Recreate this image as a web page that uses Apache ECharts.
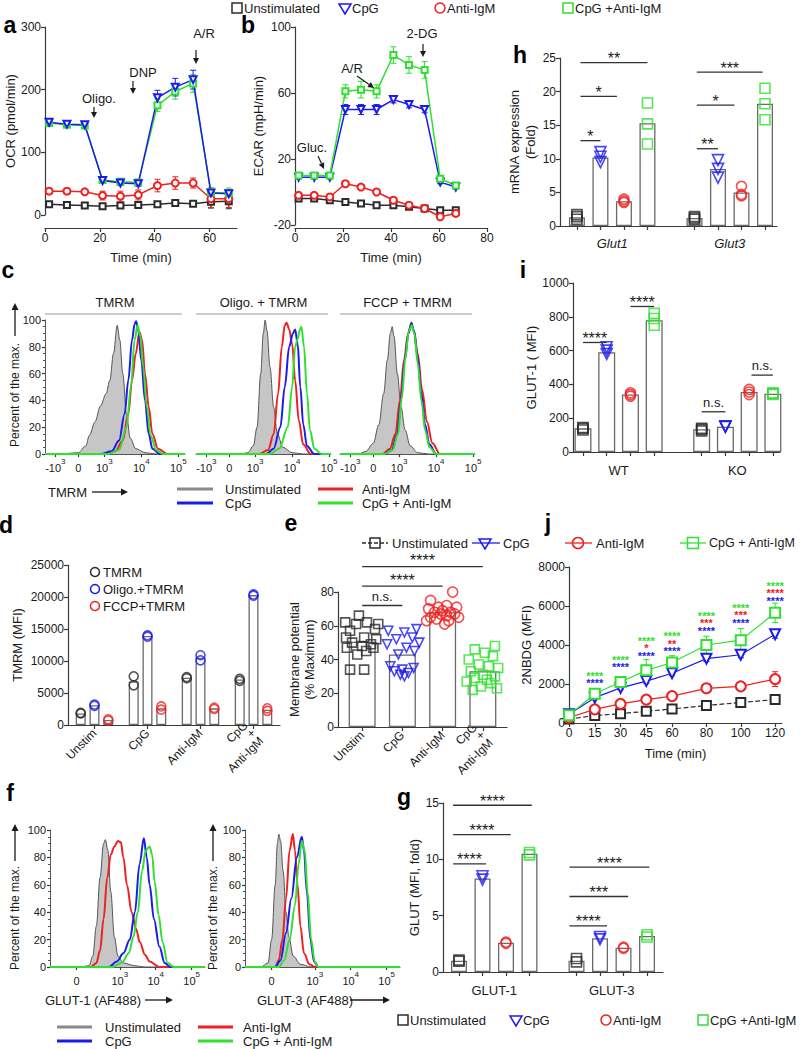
<!DOCTYPE html>
<html><head><meta charset="utf-8">
<script src="https://cdn.jsdelivr.net/npm/echarts@6/dist/echarts.min.js"></script>
<style>html,body{margin:0;padding:0;background:#fff}#c{width:800px;height:1049px}</style>
</head><body><div id="c"></div>
<script>
// ================= DATA =================
const CONDITIONS = ['Unstimulated','CpG','Anti-IgM','CpG + Anti-IgM'];

// a: OCR time course
const A_TIME = [1.5,8,14.5,21,27.5,34,41,47.5,54,60.5,67];
const A_UNST = [17,16,15,14,15,16,17,19,18,21,22];
const A_UNST_ERR = [2,2,2,3,3,3,3,3,3,10,12];
const A_CPG = [148,145,144,55,51,50,187,204,216,35,34];
const A_CPG_ERR = [3,3,3,4,4,4,12,14,15,4,4];
const A_ANTI = [38,38,37,31,30,32,47,51,51,26,26];
const A_ANTI_ERR = [3,3,3,7,8,8,10,10,8,14,14];
const A_COMBO = [147,144,143,56,53,52,175,197,210,36,35];
const A_COMBO_ERR = [3,3,3,4,4,4,10,12,14,8,8];
const A_XTICKS = [0,20,40,60];

// b: ECAR time course
const B_TIME = [1.5,8,14.5,21,27.5,34,41,47.5,54,60.5,67];
const B_UNST = [-4,-4,-5,-6,-7,-8,-8,-9,-10,-11,-11];
const B_UNST_ERR = [1,1,1,1,1,1,1,1,1,1,1];
const B_CPG = [9,9,9,50,50,50,56,53,50,6,3];
const B_CPG_ERR = [1,1,1,3,3,3,2,2,2,1,1];
const B_ANTI = [-2,-2,-3,5,3,0,-5,-8,-10,-15,-13];
const B_ANTI_ERR = [1,1,1,1,1,1,1,1,1,1,1];
const B_COMBO = [10,10,10,61,62,61,83,77,74,8,4];
const B_COMBO_ERR = [1,1,1,4,5,4,5,5,5,1,1];

// c: TMRM histograms (x in display decades of the biexponential scale, y = % of max)
const C_XTICK_POS = [1.68,2.3,3,4,5];
const C_XTICK_LBL = ['-10^3','0','10^3','10^4','10^5'];
const C1_UNST = [[1.4,0],[1.8,0],[2.3,1],[2.5,6],[2.6,14],[2.75,24],[2.9,36],[3.05,45],[3.15,55],[3.25,75],[3.35,96],[3.42,85],[3.5,60],[3.6,30],[3.7,12],[3.85,4],[4.1,1],[4.4,0],[5.18,0]];
const C1_CPG = [[1.4,0],[2.9,0],[3.2,2],[3.4,10],[3.55,30],[3.65,55],[3.75,85],[3.82,97],[3.86,99],[3.92,92],[4.0,70],[4.1,40],[4.2,15],[4.3,4],[4.5,0],[5.18,0]];
const C1_ANTI = [[1.4,0],[3.0,0],[3.3,2],[3.5,10],[3.65,30],[3.75,55],[3.85,75],[3.95,91],[4.02,85],[4.1,60],[4.2,35],[4.3,15],[4.45,4],[4.7,0],[5.18,0]];
const C1_COMBO = [[1.4,0],[3.1,0],[3.4,3],[3.6,20],[3.72,50],[3.82,85],[3.9,96],[3.97,88],[4.05,65],[4.15,35],[4.25,14],[4.4,3],[4.6,0],[5.18,0]];
const C2_UNST = [[1.4,0],[2.6,0],[2.8,1],[2.95,6],[3.05,20],[3.15,60],[3.22,90],[3.27,100],[3.32,92],[3.4,65],[3.5,35],[3.6,15],[3.75,5],[4.0,1],[4.3,0],[5.05,0]];
const C2_CPG = [[1.4,0],[3.3,0],[3.5,4],[3.68,20],[3.8,50],[3.92,80],[4.02,90],[4.08,93],[4.15,82],[4.22,50],[4.3,22],[4.4,6],[4.6,0],[5.05,0]];
const C2_ANTI = [[1.4,0],[3.1,0],[3.35,3],[3.5,15],[3.62,45],[3.72,80],[3.8,96],[3.85,98],[3.92,93],[4.0,82],[4.08,55],[4.18,25],[4.3,7],[4.5,0],[5.05,0]];
const C2_COMBO = [[1.4,0],[3.4,0],[3.65,4],[3.88,20],[4.0,50],[4.08,80],[4.15,86],[4.2,92],[4.25,95],[4.32,80],[4.4,45],[4.48,18],[4.6,4],[4.8,0],[5.05,0]];
const C3_UNST = [[1.4,0],[1.9,0],[2.1,2],[2.3,8],[2.45,22],[2.58,45],[2.68,70],[2.76,90],[2.81,95],[2.86,88],[2.95,60],[3.05,35],[3.16,18],[3.3,6],[3.5,1],[3.8,0],[5.05,0]];
const C3_CPG = [[1.4,0],[2.6,0],[2.8,3],[2.95,15],[3.05,40],[3.15,70],[3.25,90],[3.33,98],[3.4,92],[3.5,72],[3.6,45],[3.7,22],[3.82,7],[4.0,0],[5.05,0]];
const C3_ANTI = [[1.4,0],[2.55,0],[2.75,4],[2.9,15],[3.02,40],[3.13,70],[3.24,90],[3.32,96],[3.4,92],[3.5,75],[3.62,48],[3.75,24],[3.9,8],[4.1,0],[5.05,0]];
const C3_COMBO = [[1.4,0],[2.6,0],[2.82,3],[2.97,15],[3.07,42],[3.17,72],[3.26,92],[3.34,96],[3.41,90],[3.5,68],[3.6,40],[3.7,18],[3.82,5],[4.0,0],[5.05,0]];

// d: TMRM MFI
const D_GROUPS = ['Unstim','CpG','Anti-IgM','CpG\n+\nAnti-IgM'];
const D_TMRM = [1800,6800,7400,7100];
const D_OLIGO = [3100,13900,10500,20300];
const D_FCCP = [800,2600,2600,2400];
const D_TMRM_PTS = [[1800,1900],[6200,7600],[7300,7500],[6900,7200]];
const D_OLIGO_PTS = [[3000,3200],[13800,14000],[10100,10900],[20200,20400]];
const D_FCCP_PTS = [[700,900],[2400,2900],[2500,2700],[2200,2600]];

// e: membrane potential (points: [horizontal offset within column, value])
const E_GROUPS = ['Unstim','CpG','Anti-IgM','CpG\n+\nAnti-IgM'];
const E_MEANS = [50.5,43,68,33];
const E_UNST = [[-0.08,66],[-0.42,62],[-0.15,61],[0.12,62],[0.4,61],[-0.3,57],[0.32,58],[-0.4,53],[0.05,53],[0.35,52],[-0.25,50],[0.0,48],[0.22,49],[-0.38,47],[0.28,47],[0.1,45],[-0.12,43],[-0.3,34],[0.05,34]];
const E_CPG = [[0.35,58],[-0.35,57],[0.05,56],[0.25,53],[-0.15,52],[0.42,50],[-0.38,49],[0.1,47],[0.3,45],[-0.1,43],[-0.3,36],[0.0,34],[0.28,35],[-0.2,33],[0.15,32],[-0.05,31],[0.05,30]];
const E_ANTI = [[0.25,80],[-0.3,75],[0.1,72],[-0.1,71],[0.35,71],[-0.35,70],[0.0,69],[0.2,68],[-0.2,68],[0.3,67],[-0.05,67],[0.1,66],[-0.3,65],[0.4,65],[-0.15,64],[0.15,63],[-0.4,63],[0.05,61]];
const E_COMBO = [[-0.2,46],[0.3,48],[0.05,44],[-0.35,40],[0.25,42],[-0.1,37],[0.15,36],[0.38,35],[-0.3,33],[0.0,31],[0.3,30],[-0.2,29],[0.1,28],[-0.4,27],[0.2,26],[-0.05,24],[0.35,23],[-0.25,22]];
const E_SIG = [[0,1,72,'n.s.'],[0,2,83.5,'****'],[0,3,95,'****']];

// f: GLUT histograms
const F_XTICK_POS = [1.8,3,4,5];
const F_XTICK_LBL = ['0','10^3','10^4','10^5'];
const F1_UNST = [[1.06,0],[1.9,0],[2.15,1],[2.25,8],[2.35,30],[2.45,65],[2.55,90],[2.6,93],[2.67,85],[2.75,55],[2.85,22],[2.95,8],[3.1,3],[3.4,1],[3.7,0],[5.37,0]];
const F1_ANTI = [[1.06,0],[2.2,0],[2.35,3],[2.45,12],[2.55,35],[2.65,65],[2.75,82],[2.85,88],[2.95,92],[3.03,91],[3.1,80],[3.2,60],[3.33,40],[3.45,28],[3.56,18],[3.7,9],[3.83,4],[4.1,0],[5.37,0]];
const F1_CPG = [[1.06,0],[2.7,0],[2.92,4],[3.1,10],[3.28,20],[3.42,40],[3.55,75],[3.67,94],[3.75,80],[3.83,60],[3.95,35],[4.1,15],[4.25,3],[4.4,0],[5.37,0]];
const F1_COMBO = [[1.06,0],[2.8,0],[3.05,3],[3.25,10],[3.38,22],[3.5,40],[3.62,70],[3.72,85],[3.83,88],[3.9,82],[3.97,62],[4.08,38],[4.19,18],[4.33,3],[4.5,0],[5.37,0]];
const F2_UNST = [[1.06,0],[1.5,0],[1.7,3],[1.8,20],[1.9,60],[1.96,90],[2.0,97],[2.05,92],[2.12,70],[2.2,40],[2.28,22],[2.4,8],[2.6,2],[2.9,0],[5.37,0]];
const F2_ANTI = [[1.06,0],[1.9,0],[2.0,5],[2.1,20],[2.2,50],[2.3,85],[2.39,97],[2.45,85],[2.52,60],[2.6,30],[2.7,10],[2.85,2],[3.0,0],[5.37,0]];
const F2_CPG = [[1.06,0],[1.9,0],[2.05,5],[2.2,25],[2.35,50],[2.5,80],[2.64,95],[2.7,85],[2.78,55],[2.88,20],[2.98,4],[3.1,0],[5.37,0]];
const F2_COMBO = [[1.06,0],[2.0,0],[2.15,5],[2.3,20],[2.45,45],[2.55,75],[2.64,92],[2.72,85],[2.8,55],[2.9,20],[3.0,4],[3.1,0],[5.37,0]];

// g: GLUT MFI fold
const G_GROUPS = ['GLUT-1','GLUT-3'];
const G_UNST = [1.0,1.0];
const G_CPG = [8.3,3.0];
const G_ANTI = [2.6,2.15];
const G_COMBO = [10.5,3.2];
const G_UNST_PTS = [[0.95,1.05],[0.9,1.2]];
const G_CPG_PTS = [[8.2,8.5],[2.9,3.1]];
const G_ANTI_PTS = [[2.55,2.65],[2.1,2.2]];
const G_COMBO_PTS = [[10.4,10.6],[3.1,3.3]];
const G_SIG = [[0.75,2.15,9.6,'****'],[0.75,3.2,12.2,'****'],[0.75,4.1,14.8,'****'],[5.7,7.3,4.1,'****'],[5.7,8.2,6.7,'***'],[5.7,9.1,9.3,'****']];

// h: mRNA expression
const H_GROUPS = ['Glut1','Glut3'];
const H_UNST = [1.3,1.2];
const H_CPG = [10.2,8.5];
const H_ANTI = [3.7,5.0];
const H_COMBO = [15.3,18.2];
const H_UNST_PTS = [[1.0,1.4,1.7],[1.0,1.2,1.4]];
const H_CPG_PTS = [[9.5,10.3,11.0],[7.2,8.5,9.8]];
const H_ANTI_PTS = [[3.5,3.7,4.0],[4.5,4.7,5.9]];
const H_COMBO_PTS = [[12.2,15.2,18.3],[15.8,18.2,20.5]];
const H_SIG = [[1.15,2,12.7,'*'],[1.15,2.7,19.3,'*'],[1.15,4,24.3,'**'],[6.1,7,11.5,'**'],[6.1,7.7,18,'*'],[6.1,8.9,22.9,'***']];

// i: GLUT-1 MFI WT / KO
const I_GROUPS = ['WT','KO'];
const I_UNST = [140,135];
const I_CPG = [590,150];
const I_ANTI = [340,355];
const I_COMBO = [780,345];
const I_UNST_PTS = [[130,140,145],[125,135,140]];
const I_CPG_PTS = [[580,600,620],[148,150,152]];
const I_ANTI_PTS = [[330,340,350],[340,355,370]];
const I_COMBO_PTS = [[750,790,820],[340,345,350]];
const I_SIG = [[1,2,648,'****'],[3,4,861,'****'],[6,7,238,'n.s.'],[8.1,9,455,'n.s.']];

// j: 2NBDG uptake
const J_TIME = [0,15,30,45,60,80,100,120];
const J_UNST = [200,380,480,600,720,900,1050,1200];
const J_UNST_ERR = [40,60,60,60,60,80,80,80];
const J_ANTI = [280,700,980,1200,1380,1780,1880,2250];
const J_ANTI_ERR = [40,80,80,100,100,120,120,380];
const J_CPG = [450,1300,1800,2150,2550,3300,3500,4550];
const J_CPG_ERR = [60,100,100,120,120,150,150,200];
const J_COMBO = [400,1500,2100,2700,3100,4000,4250,5650];
const J_COMBO_ERR = [60,150,150,550,350,450,600,500];
// significance stacks above each time point (top row value, stars per comparison)
const J_STAR_TIME = [15,30,45,60,80,100,120];
const J_STAR_TOP = [2560,3380,4350,4600,5640,6050,7180];
const J_STAR_COMBO = ['****','****','****','****','****','****','****'];
const J_STAR_ANTI = ['','','*','**','***','***','****'];
const J_STAR_CPG = ['****','****','****','****','****','****','****'];

// ================= STYLE =================
const FONT = "'Liberation Sans', Arial, Helvetica, sans-serif";
const COL = {unst:'#2b2b2b', cpg:'#1b1bf0', anti:'#f02020', combo:'#2fe02f', grayFill:'#c6c6c6', grayLine:'#555555', axis:'#3a3a3a', text:'#1a1a1a', bar:'#6a6a6a'};

const grid=[], xAxis=[], yAxis=[], series=[], graphic=[];

function mergeAx(o){
  const base = {
    type:'value',
    axisLine:{show:true, onZero:false, lineStyle:{color:COL.axis, width:1.2}},
    axisTick:{show:true, length:4, lineStyle:{color:COL.axis, width:1.2}},
    axisLabel:{color:COL.text, fontSize:12, fontFamily:FONT, margin:4, formatter:v=>String(v)},
    splitLine:{show:false},
    nameTextStyle:{color:COL.text, fontSize:13, fontFamily:FONT}
  };
  for (const k in o){
    if (o[k] && typeof o[k]==='object' && !Array.isArray(o[k]) && base[k] && typeof base[k]==='object') base[k]=Object.assign({}, base[k], o[k]);
    else base[k]=o[k];
  }
  return base;
}
function panel(g, xa, ya){
  const i=grid.length;
  grid.push(Object.assign({containLabel:false}, g));
  xAxis.push(Object.assign({gridIndex:i}, mergeAx(xa)));
  yAxis.push(Object.assign({gridIndex:i}, mergeAx(ya)));
  return i;
}
function lookupLabel(pos, lbl){ return v => { const k = pos.findIndex(p=>Math.abs(p-v)<1e-6); return k<0?'':lbl[k]; }; }
function supLabel(s){
  const m = s.match(/^(-?)10\^(\d)$/);
  if(!m) return '{n|'+s+'}';
  return '{n|'+m[1]+'10}{s|'+m[2]+'}';
}
const SUP_RICH = {
  n:{fontSize:11, fontFamily:FONT, color:COL.text, lineHeight:16, verticalAlign:'bottom'},
  s:{fontSize:8, fontFamily:FONT, color:COL.text, lineHeight:9, verticalAlign:'top'}
};

// series helpers
function lineS(i, xs, ys, color, symbol, opt={}){
  series.push({type:'line', xAxisIndex:i, yAxisIndex:i, data:xs.map((x,k)=>[x,ys[k]]),
    symbol, symbolSize:opt.size||7, symbolRotate:opt.rot||0, showAllSymbol:true,
    lineStyle:{color, width:opt.width||1.5, type:opt.dash?'dashed':'solid'},
    itemStyle:{color, borderWidth:1.3}, z:opt.z||3, silent:true, animation:false});
}
function errS(i, xs, ys, errs, color, capw=3){
  series.push({type:'custom', xAxisIndex:i, yAxisIndex:i, silent:true, z:2, clip:false,
    data:xs.map((x,k)=>[x,ys[k],errs[k]]),
    renderItem:(p,api)=>{
      const x=api.value(0), y=api.value(1), e=api.value(2);
      const t=api.coord([x,y+e]), b=api.coord([x,y-e]);
      const st={stroke:color, lineWidth:1};
      return {type:'group', children:[
        {type:'line', shape:{x1:t[0],y1:t[1],x2:b[0],y2:b[1]}, style:st},
        {type:'line', shape:{x1:t[0]-capw,y1:t[1],x2:t[0]+capw,y2:t[1]}, style:st},
        {type:'line', shape:{x1:b[0]-capw,y1:b[1],x2:b[0]+capw,y2:b[1]}, style:st}]};
    }});
}
function histS(i, data, color, filled){
  series.push({type:'line', xAxisIndex:i, yAxisIndex:i, data, symbol:'none', smooth:0.35, smoothMonotone:'x',
    lineStyle:{color: filled?COL.grayLine:color, width: filled?1:2},
    areaStyle: filled?{color:COL.grayFill, opacity:1}:undefined, z: filled?2:3, silent:true});
}
function barS(i, data, width){
  series.push({type:'bar', xAxisIndex:i, yAxisIndex:i, data, barWidth:width,
    itemStyle:{color:'#ffffff', borderColor:COL.bar, borderWidth:1.3}, z:2, silent:true});
}
function ptsS(i, data, color, symbol, size, rot){
  series.push({type:'scatter', xAxisIndex:i, yAxisIndex:i, data, symbol, symbolSize:size, symbolRotate:rot||0,
    itemStyle:{color:'rgba(255,255,255,0)', borderColor:color, borderWidth:1.6}, z:3, silent:true});
}
function sigS(i, list, opt={}){
  series.push({type:'custom', xAxisIndex:i, yAxisIndex:i, silent:true, z:5, clip:false,
    data:list.map(d=>[d[0],d[2]]),
    renderItem:(p,api)=>{
      const d=list[p.dataIndex];
      const a=api.coord([d[0],d[2]]), b=api.coord([d[1],d[2]]);
      const isNS = d[3]==='n.s.';
      return {type:'group', children:[
        {type:'line', shape:{x1:a[0],y1:a[1],x2:b[0],y2:b[1]}, style:{stroke:'#333', lineWidth:1.3}},
        {type:'text', x:(a[0]+b[0])/2, y: isNS ? a[1]-3 : a[1]+(opt.starDy||4),
          style:{text:d[3], fill:COL.text, font:(isNS?'13px ':'16px ')+FONT, align:'center', verticalAlign:'bottom'}}]};
    }});
}
// stacked coloured star rows (one multi-line rich text per time point)
function starStackS(i){
  series.push({type:'custom', xAxisIndex:i, yAxisIndex:i, silent:true, z:5, clip:false,
    data:J_STAR_TIME.map((t,k)=>[t,J_STAR_TOP[k]]),
    renderItem:(p,api)=>{
      const k=p.dataIndex; const c=api.coord([J_STAR_TIME[k], J_STAR_TOP[k]]);
      const rows=[];
      if(J_STAR_COMBO[k]) rows.push('{g|'+J_STAR_COMBO[k]+'}');
      if(J_STAR_ANTI[k]) rows.push('{r|'+J_STAR_ANTI[k]+'}');
      if(J_STAR_CPG[k]) rows.push('{b|'+J_STAR_CPG[k]+'}');
      const st=(col)=>({fill:col, lineHeight:7.5, fontWeight:'bold', fontSize:11, fontFamily:FONT});
      return {type:'text', x:c[0], y:c[1]-1, style:{text:rows.join('\n'), align:'center', verticalAlign:'top',
        rich:{g:st(COL.combo), r:st(COL.anti), b:st(COL.cpg)}}};
    }});
}

// graphic helpers
function T(x,y,text,o={}){
  graphic.push({type:'text', x, y, rotation:o.rot||0, z:100, silent:true,
    style:{text, fill:o.color||COL.text, font:(o.style||'')+' '+(o.weight||'normal')+' '+(o.size||13)+'px '+FONT, align:o.align||'left', verticalAlign:o.va||'middle'}});
}
function L(x1,y1,x2,y2,color,w,dash){
  graphic.push({type:'line', z:100, silent:true, shape:{x1,y1,x2,y2}, style:{stroke:color||COL.text, lineWidth:w||1.2, lineDash:dash||null}});
}
function ARROW(x1,y1,x2,y2,color,w,head){
  color=color||COL.text; w=w||1.2; head=head||6;
  const ang=Math.atan2(y2-y1,x2-x1);
  const bx=x2-head*Math.cos(ang), by=y2-head*Math.sin(ang);
  L(x1,y1,bx,by,color,w);
  const px=-Math.sin(ang)*head*0.5, py=Math.cos(ang)*head*0.5;
  graphic.push({type:'polygon', z:100, silent:true, shape:{points:[[x2,y2],[bx+px,by+py],[bx-px,by-py]]}, style:{fill:color}});
}
function SYM(kind,x,y,color,s){
  s=s||5;
  const st={fill:'none', stroke:color, lineWidth:1.5};
  if(kind==='sq') graphic.push({type:'rect', z:100, silent:true, shape:{x:x-s,y:y-s,width:2*s,height:2*s}, style:st});
  else if(kind==='ci') graphic.push({type:'circle', z:100, silent:true, shape:{cx:x,cy:y,r:s}, style:st});
  else if(kind==='tr') graphic.push({type:'polygon', z:100, silent:true, shape:{points:[[x-s-1,y-s+1],[x+s+1,y-s+1],[x,y+s+1]]}, style:st});
}

// ================= PANEL a =================
const ia = panel({left:45, top:27, width:192, height:188},
  {min:0, max:70, offset:13, axisLabel:{customValues:A_XTICKS, margin:4}, axisTick:{customValues:A_XTICKS},
   name:'Time (min)', nameLocation:'middle', nameGap:23},
  {min:0, max:300, interval:100, name:'OCR (pmol/min)', nameLocation:'middle', nameGap:24});
errS(ia, A_TIME, A_UNST, A_UNST_ERR, COL.unst);
errS(ia, A_TIME, A_ANTI, A_ANTI_ERR, COL.anti);
errS(ia, A_TIME, A_COMBO, A_COMBO_ERR, COL.combo);
errS(ia, A_TIME, A_CPG, A_CPG_ERR, COL.cpg);
lineS(ia, A_TIME, A_UNST, COL.unst, 'emptyRect', {size:6});
lineS(ia, A_TIME, A_ANTI, COL.anti, 'emptyCircle', {size:7});
lineS(ia, A_TIME, A_COMBO, COL.combo, 'emptyRect', {size:6});
lineS(ia, A_TIME, A_CPG, COL.cpg, 'emptyTriangle', {size:7, rot:180});
T(82,98,'Oligo.',{size:13}); ARROW(94,107,94,118);
T(143,72,'DNP',{size:13,align:'center'}); ARROW(133,81,133,94);
T(204,33,'A/R',{size:13,align:'center'}); ARROW(196,50,196,64);

// ================= PANEL b =================
const ib = panel({left:295, top:27, width:192, height:198},
  {min:0, max:80, interval:20, offset:3, axisLabel:{margin:4}, name:'Time (min)', nameLocation:'middle', nameGap:23},
  {min:-20, max:100, interval:40, name:'ECAR (mpH/min)', nameLocation:'middle', nameGap:30});
errS(ib, B_TIME, B_UNST, B_UNST_ERR, COL.unst);
errS(ib, B_TIME, B_ANTI, B_ANTI_ERR, COL.anti);
errS(ib, B_TIME, B_CPG, B_CPG_ERR, COL.cpg);
errS(ib, B_TIME, B_COMBO, B_COMBO_ERR, COL.combo);
lineS(ib, B_TIME, B_UNST, COL.unst, 'emptyRect', {size:6});
lineS(ib, B_TIME, B_ANTI, COL.anti, 'emptyCircle', {size:7});
lineS(ib, B_TIME, B_CPG, COL.cpg, 'emptyTriangle', {size:7, rot:180});
lineS(ib, B_TIME, B_COMBO, COL.combo, 'emptyRect', {size:6});
T(312,147,'Gluc.',{size:13,align:'center'}); ARROW(318,156,324,169);
T(352,68,'A/R',{size:13,align:'center'}); ARROW(357,76,374,88);
T(422,33,'2-DG',{size:13,align:'center'}); ARROW(423,44,423,57);

// ================= PANEL h =================
const H_POS = [[1,2,3,4],[6,7,8,9]];
function groupBars(i, arrs, pos){ const d=[]; arrs.forEach((arr,c)=>arr.forEach((v,g)=>d.push([pos[g][c], v]))); return d; }
function groupPts(ptsArr, c, pos){ const d=[]; ptsArr.forEach((vals,g)=>vals.forEach(v=>d.push([pos[g][c], v]))); return d; }
const ih = panel({left:560, top:58, width:217, height:168},
  {min:0.28, max:9.51, axisLabel:{customValues:[2.5,7.5], formatter:lookupLabel([2.5,7.5],H_GROUPS), fontStyle:'italic', fontSize:13, margin:11},
   axisTick:{customValues:[1,2,3,4,6,7,8,9]}},
  {min:0, max:25, interval:5, name:'mRNA expression\n(Fold)', nameLocation:'middle', nameGap:20,
   nameTextStyle:{lineHeight:16}});
barS(ih, groupBars(ih, [H_UNST,H_CPG,H_ANTI,H_COMBO], H_POS), 16);
ptsS(ih, groupPts(H_UNST_PTS,0,H_POS), COL.unst, 'rect', 10);
ptsS(ih, groupPts(H_CPG_PTS,1,H_POS), COL.cpg, 'triangle', 11, 180);
ptsS(ih, groupPts(H_ANTI_PTS,2,H_POS), COL.anti, 'circle', 10);
ptsS(ih, groupPts(H_COMBO_PTS,3,H_POS), COL.combo, 'rect', 10);
sigS(ih, H_SIG);

// ================= PANEL i =================
const ii = panel({left:573, top:283, width:207, height:169},
  {min:0.58, max:9.3, axisLabel:{customValues:[2.5,7.5], formatter:lookupLabel([2.5,7.5],I_GROUPS), fontSize:13, margin:12},
   axisTick:{customValues:[1,2,3,4,6,7,8,9]}},
  {min:0, max:1000, interval:200, name:'GLUT-1 ( MFI)', nameLocation:'middle', nameGap:34});
barS(ii, groupBars(ii, [I_UNST,I_CPG,I_ANTI,I_COMBO], H_POS), 17);
ptsS(ii, groupPts(I_UNST_PTS,0,H_POS), COL.unst, 'rect', 10);
ptsS(ii, groupPts(I_CPG_PTS,1,H_POS), COL.cpg, 'triangle', 11, 180);
ptsS(ii, groupPts(I_ANTI_PTS,2,H_POS), COL.anti, 'circle', 10);
ptsS(ii, groupPts(I_COMBO_PTS,3,H_POS), COL.combo, 'rect', 10);
sigS(ii, I_SIG);

// ================= PANEL c =================
const C_PANELS = [
  {left:45, width:140, max:5.18, title:'TMRM', data:[C1_UNST,C1_CPG,C1_ANTI,C1_COMBO], showY:true},
  {left:196, width:135, max:5.05, title:'Oligo. + TMRM', data:[C2_UNST,C2_CPG,C2_ANTI,C2_COMBO], showY:false},
  {left:340, width:135, max:5.05, title:'FCCP + TMRM', data:[C3_UNST,C3_CPG,C3_ANTI,C3_COMBO], showY:false}
];
C_PANELS.forEach(p=>{
  const ic = panel({left:p.left, top:320, width:p.width, height:134},
    {min:1.4, max:p.max, axisLabel:{customValues:C_XTICK_POS, formatter:v=>supLabel(lookupLabel(C_XTICK_POS,C_XTICK_LBL)(v)), rich:SUP_RICH, margin:3},
     axisTick:{customValues:C_XTICK_POS, length:3}, axisLine:{lineStyle:{color:'#555', width:1}}},
    p.showY ? {min:0, max:100, interval:20, axisLabel:{fontSize:11}, axisTick:{length:3}, minorTick:{show:true, splitNumber:4, length:2, lineStyle:{color:'#555'}}, axisLine:{lineStyle:{color:'#555', width:1}}}
            : {min:0, max:100, show:false});
  histS(ic, p.data[0], null, true);
  histS(ic, p.data[2], COL.anti);
  histS(ic, p.data[1], COL.cpg);
  histS(ic, p.data[3], COL.combo);
  T(p.left+p.width/2, 302, p.title, {size:13, align:'center'});
  L(p.left, 314, p.left+p.width-3, 314, '#9a9a9a', 1);
});
T(15,395,'Percent of the max.',{rot:Math.PI/2, size:12, align:'center'});
ARROW(15,336,15,303,COL.text,1.3,7);
T(48,492,'TMRM',{size:13}); ARROW(92,492,128,492,COL.text,1.3,7);
// legend c
L(177,489,213,489,'#8a8a8a',3); T(225,489,'Unstimulated',{size:13});
L(177,503,213,503,COL.cpg,3); T(225,503,'CpG',{size:13});
L(318,489,353,489,COL.anti,3); T(362,489,'Anti-IgM',{size:13});
L(318,503,353,503,COL.combo,3); T(362,503,'CpG + Anti-IgM',{size:13});

// ================= PANEL d =================
const D_OFF = [-0.26, 0, 0.26];
const id = panel({left:68, top:565, width:212, height:160},
  {min:-0.5, max:3.5, axisLabel:{customValues:[0,1,2,3], formatter:lookupLabel([0,1,2,3],D_GROUPS), rotate:45, fontSize:12, margin:6, lineHeight:11},
   axisTick:{customValues:[0,1,2,3]}},
  {min:0, max:25000, interval:5000, name:'TMRM (MFI)', nameLocation:'middle', nameGap:44});
(function(){
  const bars=[];
  [D_TMRM,D_OLIGO,D_FCCP].forEach((arr,s)=>arr.forEach((v,g)=>bars.push([g+D_OFF[s], v])));
  barS(id, bars, 10);
  const mk=(P,s)=>{const d=[]; P.forEach((vals,g)=>vals.forEach(v=>d.push([g+D_OFF[s],v]))); return d;};
  ptsS(id, mk(D_TMRM_PTS,0), COL.unst, 'circle', 9);
  ptsS(id, mk(D_OLIGO_PTS,1), COL.cpg, 'circle', 9);
  ptsS(id, mk(D_FCCP_PTS,2), COL.anti, 'circle', 9);
})();
SYM('ci',95,572,COL.unst,4.5); T(103,572,'TMRM',{size:13});
SYM('ci',95,589,COL.cpg,4.5); T(103,589,'Oligo.+TMRM',{size:13});
SYM('ci',95,606,COL.anti,4.5); T(103,606,'FCCP+TMRM',{size:13});

// ================= PANEL e =================
const ie = panel({left:338, top:592, width:169, height:135},
  {min:-0.6, max:3.6, axisLabel:{customValues:[0,1,2,3], formatter:lookupLabel([0,1,2,3],E_GROUPS), rotate:45, fontSize:12, margin:6, lineHeight:11},
   axisTick:{customValues:[0,1,2,3]}},
  {min:0, max:80, interval:20, name:'Membrane potential\n(% Maximum)', nameLocation:'middle', nameGap:21, nameTextStyle:{lineHeight:15}});
barS(ie, E_MEANS.map((v,k)=>[k,v]), 27);
ptsS(ie, E_UNST.map(d=>[0+d[0],d[1]]), COL.unst, 'rect', 9);
ptsS(ie, E_CPG.map(d=>[1+d[0],d[1]]), COL.cpg, 'triangle', 9, 180);
ptsS(ie, E_ANTI.map(d=>[2+d[0],d[1]]), COL.anti, 'circle', 10);
ptsS(ie, E_COMBO.map(d=>[3+d[0],d[1]]), COL.combo, 'rect', 9);
sigS(ie, E_SIG, {starDy:2});

// legend e / j
L(362,543,388,543,COL.unst,1.3,[4,2]); SYM('sq',375,543,COL.unst,5); T(392,543,'Unstimulated',{size:13});
L(472,543,500,543,COL.cpg,1.3); SYM('tr',485,543,COL.cpg,5); T(503,543,'CpG',{size:13});
L(565,543,592,543,COL.anti,1.3); SYM('ci',578,543,COL.anti,5.5); T(596,543,'Anti-IgM',{size:13});
L(680,543,706,543,COL.combo,1.3); SYM('sq',693,543,COL.combo,5.5); T(709,543,'CpG + Anti-IgM',{size:12.5});

// ================= PANEL j =================
const ij = panel({left:569, top:567, width:213, height:156},
  {min:0, max:124, axisLabel:{customValues:J_TIME, fontSize:12}, axisTick:{customValues:J_TIME},
   name:'Time (min)', nameLocation:'middle', nameGap:24},
  {min:0, max:8000, interval:2000, name:'2NBDG (MFI)', nameLocation:'middle', nameGap:36});
errS(ij, J_TIME, J_UNST, J_UNST_ERR, COL.unst);
errS(ij, J_TIME, J_ANTI, J_ANTI_ERR, COL.anti);
errS(ij, J_TIME, J_CPG, J_CPG_ERR, COL.cpg);
errS(ij, J_TIME, J_COMBO, J_COMBO_ERR, COL.combo);
lineS(ij, J_TIME, J_UNST, COL.unst, 'emptyRect', {size:9, width:1.2, dash:true});
lineS(ij, J_TIME, J_ANTI, COL.anti, 'emptyCircle', {size:10, width:1.2});
lineS(ij, J_TIME, J_CPG, COL.cpg, 'emptyTriangle', {size:10, rot:180, width:1.2});
lineS(ij, J_TIME, J_COMBO, COL.combo, 'emptyRect', {size:10, width:1.2});
starStackS(ij);

// ================= PANEL f =================
const F_PANELS = [
  {left:50, data:[F1_UNST,F1_CPG,F1_ANTI,F1_COMBO], name:'GLUT-1 (AF488)', nameX:45, arrow:[145,173], ylab:15},
  {left:245, data:[F2_UNST,F2_CPG,F2_ANTI,F2_COMBO], name:'GLUT-3 (AF488)', nameX:257, arrow:[350,390], ylab:213}
];
F_PANELS.forEach(p=>{
  const ifx = panel({left:p.left, top:830, width:155, height:137},
    {min:1.06, max:5.37, axisLabel:{customValues:F_XTICK_POS, formatter:v=>supLabel(lookupLabel(F_XTICK_POS,F_XTICK_LBL)(v)), rich:SUP_RICH, margin:3},
     axisTick:{customValues:F_XTICK_POS, length:3}, axisLine:{lineStyle:{color:'#555', width:1}}},
    {min:0, max:100, interval:20, axisLabel:{fontSize:11}, axisTick:{length:3}, minorTick:{show:true, splitNumber:4, length:2, lineStyle:{color:'#555'}}, axisLine:{lineStyle:{color:'#555', width:1}}});
  histS(ifx, p.data[0], null, true);
  histS(ifx, p.data[2], COL.anti);
  histS(ifx, p.data[1], COL.cpg);
  histS(ifx, p.data[3], COL.combo);
  T(p.nameX, 1000, p.name, {size:13});
  ARROW(p.arrow[0],1000,p.arrow[1],1000,COL.text,1.3,7);
  T(p.ylab, 918, 'Percent of the max.', {rot:Math.PI/2, size:12, align:'center'});
  ARROW(p.ylab, 861, p.ylab, 824, COL.text, 1.3, 7);
});
// legend f
L(57,1027,92,1027,'#8a8a8a',3); T(105,1027,'Unstimulated',{size:13});
L(57,1041,92,1041,COL.cpg,3); T(105,1041,'CpG',{size:13});
L(198,1027,233,1027,COL.anti,3); T(243,1027,'Anti-IgM',{size:13});
L(198,1041,233,1041,COL.combo,3); T(243,1041,'CpG + Anti-IgM',{size:13});

// ================= PANEL g =================
const ig = panel({left:443, top:803, width:220, height:169},
  {min:0.32, max:9.68, axisLabel:{customValues:[2.5,7.5], formatter:lookupLabel([2.5,7.5],G_GROUPS), fontSize:13, margin:12},
   axisTick:{customValues:[1,2,3,4,6,7,8,9]}},
  {min:0, max:15, interval:5, name:'GLUT (MFI, fold)', nameLocation:'middle', nameGap:22});
barS(ig, groupBars(ig, [G_UNST,G_CPG,G_ANTI,G_COMBO], H_POS), 16);
ptsS(ig, groupPts(G_UNST_PTS,0,H_POS), COL.unst, 'rect', 10);
ptsS(ig, groupPts(G_CPG_PTS,1,H_POS), COL.cpg, 'triangle', 11, 180);
ptsS(ig, groupPts(G_ANTI_PTS,2,H_POS), COL.anti, 'circle', 10);
ptsS(ig, groupPts(G_COMBO_PTS,3,H_POS), COL.combo, 'rect', 10);
sigS(ig, G_SIG);

// ================= LEGENDS (top / bottom) =================
function legendRow(y, xs){
  const kinds=['sq','tr','ci','sq'], cols=[COL.unst,COL.cpg,COL.anti,COL.combo];
  const names=['Unstimulated','CpG','Anti-IgM','CpG +Anti-IgM'];
  xs.forEach((x,k)=>{ SYM(kinds[k], x, y, cols[k], 5); T(x+7, y, names[k], {size:13}); });
}
legendRow(8, [237,345,440,568]);
legendRow(1020, [403,516,606,703]);

// ================= PANEL LETTERS =================
[['a',10,25],['b',248,25],['h',520,55],['c',8,270],['i',523,270],['d',6,525],['e',291,523],['j',548,523],['f',10,793],['g',404,797]]
  .forEach(l=>T(l[1],l[2],l[0],{size:23, weight:'bold', align:'center', color:'#000'}));

const chart = echarts.init(document.getElementById('c'), null, {renderer:'svg', width:800, height:1049});
chart.setOption({animation:false, backgroundColor:'#ffffff', textStyle:{fontFamily:FONT}, grid, xAxis, yAxis, series, graphic});
</script></body></html>
